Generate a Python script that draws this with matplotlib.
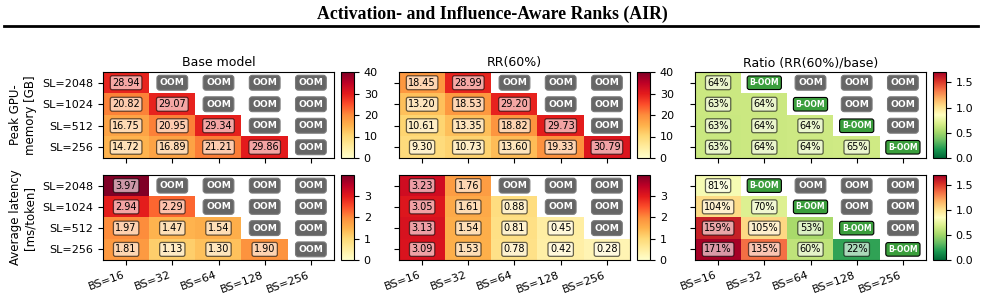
import numpy as np
import matplotlib.pyplot as plt

# Batch sizes (columns) and sequence lengths (rows, top to bottom)
BATCH = ['BS=16', 'BS=32', 'BS=64', 'BS=128', 'BS=256']
SEQ = ['SL=2048', 'SL=1024', 'SL=512', 'SL=256']

# None = OOM
mem_base = [
    [28.94, None, None, None, None],
    [20.82, 29.07, None, None, None],
    [16.75, 20.95, 29.34, None, None],
    [14.72, 16.89, 21.21, 29.86, None],
]
mem_rr = [
    [18.45, 28.99, None, None, None],
    [13.20, 18.53, 29.20, None, None],
    [10.61, 13.35, 18.82, 29.73, None],
    [9.30, 10.73, 13.60, 19.33, 30.79],
]
lat_base = [
    [3.97, None, None, None, None],
    [2.94, 2.29, None, None, None],
    [1.97, 1.47, 1.54, None, None],
    [1.81, 1.13, 1.30, 1.90, None],
]
lat_rr = [
    [3.23, 1.76, None, None, None],
    [3.05, 1.61, 0.88, None, None],
    [3.13, 1.54, 0.81, 0.45, None],
    [3.09, 1.53, 0.78, 0.42, 0.28],
]


def to_arr(rows):
    return np.array([[np.nan if v is None else v for v in r] for r in rows], dtype=float)


mem_base, mem_rr = to_arr(mem_base), to_arr(mem_rr)
lat_base, lat_rr = to_arr(lat_base), to_arr(lat_rr)
mem_ratio = mem_rr / mem_base
lat_ratio = lat_rr / lat_base
ratio_max = np.nanmax([np.nanmax(mem_ratio), np.nanmax(lat_ratio)])
lat_max = np.nanmax([np.nanmax(lat_base), np.nanmax(lat_rr)])

W, H = 985, 298
fig = plt.figure(figsize=(W / 100, H / 100), dpi=100)


def px_axes(x0, y0, x1, y1):
    return fig.add_axes([x0 / W, 1 - y1 / H, (x1 - x0) / W, (y1 - y0) / H])


fig.text(0.5, 1 - 14 / H, 'Activation- and Influence-Aware Ranks (AIR)', ha='center', va='center',
         family='Liberation Serif', fontweight='bold', fontsize=12.8)
fig.add_artist(plt.Line2D([4 / W, 978 / W], [1 - 26 / H, 1 - 26 / H], color='black', linewidth=2))

num_box = dict(boxstyle='round,pad=0.2', facecolor='white', alpha=0.6, edgecolor='black', linewidth=0.9)
oom_box = dict(boxstyle='round,pad=0.32', facecolor='#666666', edgecolor='#7a7a7a', linewidth=0.8)
boom_box = dict(boxstyle='round,pad=0.3', facecolor='#3a9e3c', edgecolor='black', linewidth=0.8)


def heatmap(ax, data, cmap, vmax, fmt, boom=None):
    masked = np.ma.masked_invalid(data)
    im = ax.imshow(masked, cmap=cmap, vmin=0, vmax=vmax, aspect='auto', interpolation='nearest')
    for i in range(data.shape[0]):
        for j in range(data.shape[1]):
            v = data[i, j]
            if np.isnan(v):
                if boom is not None and boom[i, j]:
                    ax.text(j, i, 'B-OOM', ha='center', va='center', color='white',
                            fontweight='bold', fontsize=5.5, bbox=boom_box)
                else:
                    ax.text(j, i, 'OOM', ha='center', va='center', color='white',
                            fontweight='bold', fontsize=6.6, bbox=oom_box)
            else:
                ax.text(j, i, fmt(v), ha='center', va='center', color='black', fontsize=7, bbox=num_box)
    ax.set_xticks(range(len(BATCH)))
    ax.set_yticks(range(len(SEQ)))
    ax.tick_params(labelsize=8)
    return im


cols = [103, 399, 695]
rows = [(72, 158), (175, 260)]
panel_w = 231
titles = ['Base model', 'RR(60%)', 'Ratio (RR(60%)/base)']
ylabels = ['Peak GPU-\nmemory [GB]', 'Average latency\n[ms/token]']

row_data = [
    (mem_base, mem_rr, mem_ratio, 40, [0, 10, 20, 30, 40], lambda v: f'{v:.2f}'),
    (lat_base, lat_rr, lat_ratio, lat_max, [0, 1, 2, 3], lambda v: f'{v:.2f}'),
]

for r, (y0, y1) in enumerate(rows):
    base, rr, ratio, vmax, cticks, fmt = row_data[r]
    boom = np.isnan(base) & ~np.isnan(rr)
    panels = [
        (base, 'YlOrRd', vmax, fmt, None, cticks),
        (rr, 'YlOrRd', vmax, fmt, None, cticks),
        (ratio, 'RdYlGn_r', ratio_max, lambda v: f'{v:.0%}', boom, [0.0, 0.5, 1.0, 1.5]),
    ]
    for c, (data, cmap, vm, f, bm, ct) in enumerate(panels):
        x0 = cols[c]
        ax = px_axes(x0, y0, x0 + panel_w, y1)
        im = heatmap(ax, data, cmap, vm, f, bm)
        if c == 0:
            ax.set_yticklabels(SEQ)
            ax.set_ylabel(ylabels[r], fontsize=8.5)
        else:
            ax.set_yticklabels([])
        if r == 1:
            ax.set_xticklabels(BATCH, rotation=20, ha='right')
        else:
            ax.set_xticklabels([])
            ax.set_title(titles[c], fontsize=9, pad=4)
        cax = px_axes(x0 + panel_w + 7, y0, x0 + panel_w + 20, y1)
        cb = fig.colorbar(im, cax=cax, ticks=ct)
        cb.ax.tick_params(labelsize=8)
        if cmap == 'RdYlGn_r':
            cb.ax.set_yticklabels([f'{t:.1f}' for t in ct])

fig.savefig('out.png', dpi=100)
